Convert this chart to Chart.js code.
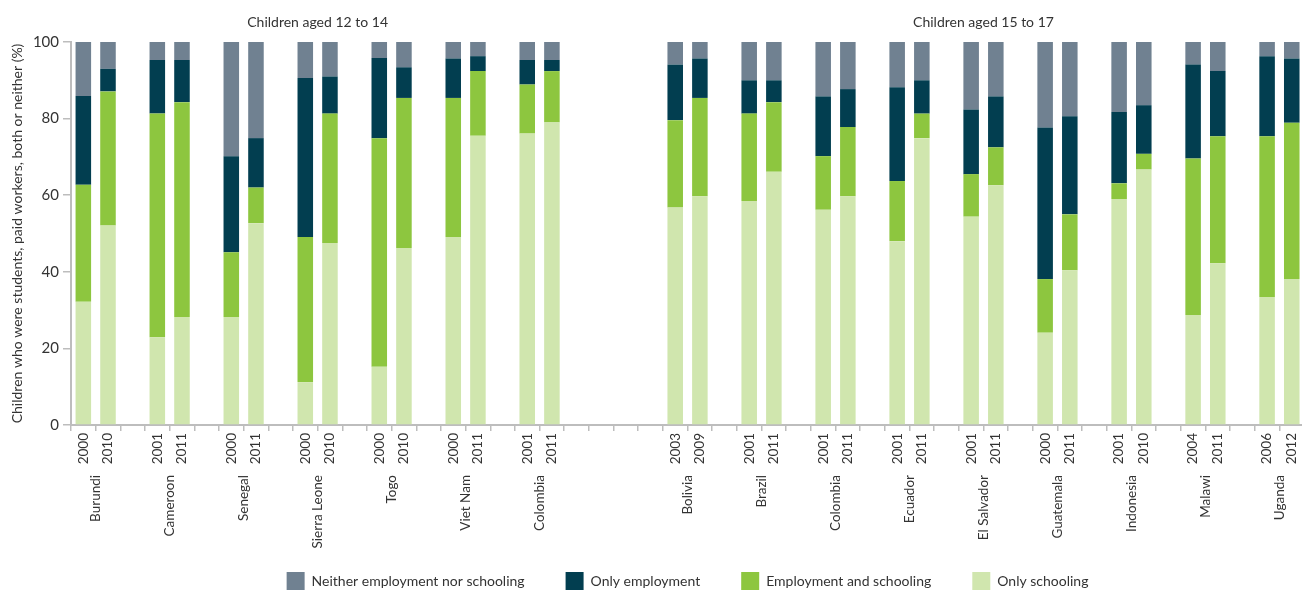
<!DOCTYPE html>
<html><head><meta charset="utf-8">
<script src="https://cdn.jsdelivr.net/npm/chart.js@4.4.1/dist/chart.umd.min.js"></script>
<style>
html,body{margin:0;padding:0;overflow:hidden;background:#fff;}
#wrap{position:relative;width:1310px;height:600px;}
</style></head><body>
<div id="wrap"><canvas id="c"></canvas></div>
<script>
// Groups
const groupTitles = ['Children aged 12 to 14', 'Children aged 15 to 17'];
const countries12 = ['Burundi','Cameroon','Senegal','Sierra Leone','Togo','Viet Nam','Colombia'];
const years12 = [['2000','2010'],['2001','2011'],['2000','2011'],['2000','2010'],['2000','2010'],['2000','2011'],['2001','2011']];
const countries15 = ['Bolivia','Brazil','Colombia','Ecuador','El Salvador','Guatemala','Indonesia','Malawi','Uganda'];
const years15 = [['2003','2009'],['2001','2011'],['2001','2011'],['2001','2011'],['2001','2011'],['2000','2011'],['2001','2010'],['2004','2011'],['2006','2012']];

// Series values (%), one per bar in reading order
const onlySchooling = [32.2,52.1, 22.9,28.2, 28.2,52.7, 11.2,47.5, 15.2,46.2, 49.1,75.5, 76.1,79.0,
  56.8,59.7, 58.5,66.1, 56.2,59.7, 48.0,74.9, 54.4,62.6, 24.1,40.4, 59.0,66.7, 28.7,42.2, 33.4,38.1];
const employmentAndSchooling = [30.5,35.0, 58.4,56.1, 16.9,9.3, 37.9,33.8, 59.7,39.2, 36.3,16.9, 12.8,13.4,
  22.8,25.7, 22.8,18.2, 14.0,18.1, 15.7,6.4, 11.1,9.9, 14.0,14.6, 4.1,4.1, 40.9,33.2, 42.0,40.8];
const onlyEmployment = [23.2,5.9, 14.0,11.0, 25.1,12.9, 41.5,9.7, 20.9,8.0, 10.3,3.9, 6.4,2.9,
  14.5,10.3, 8.7,5.7, 15.6,9.9, 24.5,8.7, 16.9,13.3, 39.6,25.6, 18.6,12.7, 24.5,17.0, 20.9,16.8];
const neither = [14.1,7.0, 4.7,4.7, 29.8,25.1, 9.4,9.0, 4.2,6.6, 4.3,3.7, 4.7,4.7,
  5.9,4.3, 10.0,10.0, 14.2,12.3, 11.8,10.0, 17.6,14.2, 22.3,19.4, 18.3,16.5, 5.9,7.6, 3.7,4.3];

const gapBetweenGroups = 4;

// Build slot layout: pairs separated by one empty slot, groups separated by gapBetweenGroups slots
const labels = [];
const barIndex = [];          // slot -> bar index or null
const countrySlots = [];      // [first slot of pair, name]
const groupRanges = [];
let bar = 0;
function addGroup(countries, years) {
  const start = labels.length;
  countries.forEach((c, i) => {
    if (i > 0) { labels.push(''); barIndex.push(null); }
    countrySlots.push([labels.length, c]);
    years[i].forEach(y => { labels.push(y); barIndex.push(bar++); });
  });
  groupRanges.push([start, labels.length - 1]);
}
addGroup(countries12, years12);
for (let i = 0; i < gapBetweenGroups; i++) { labels.push(''); barIndex.push(null); }
addGroup(countries15, years15);

const slotData = arr => barIndex.map(b => b === null ? null : arr[b]);

const FONT = 'Lato, "Open Sans", sans-serif';
const TXT = '#333333';
const AXIS = '#bdbdbd';

const textPlugin = {
  id: 'groupText',
  afterDraw(chart) {
    const xs = chart.scales.x;
    const ctx = chart.ctx;
    const half = (xs.getPixelForValue(1) - xs.getPixelForValue(0)) / 2;
    ctx.save();
    ctx.fillStyle = TXT;
    // group titles
    ctx.font = '14px ' + FONT;
    ctx.textAlign = 'center';
    ctx.textBaseline = 'middle';
    groupRanges.forEach((r, i) => {
      const cx = (xs.getPixelForValue(r[0]) - half + xs.getPixelForValue(r[1]) + half) / 2;
      ctx.fillText(groupTitles[i], cx, 22);
    });
    // country names, rotated, below the year labels
    ctx.font = '13.5px ' + FONT;
    ctx.textAlign = 'right';
    ctx.textBaseline = 'middle';
    countrySlots.forEach(([s, name]) => {
      const cx = (xs.getPixelForValue(s) + xs.getPixelForValue(s + 1)) / 2;
      ctx.save();
      ctx.translate(cx, xs.bottom);
      ctx.rotate(-Math.PI / 2);
      ctx.fillText(name, 0, 0);
      ctx.restore();
    });
    ctx.restore();
  }
};

new Chart(document.getElementById('c'), {
  type: 'bar',
  data: {
    labels: labels,
    datasets: [
      { label: 'Only schooling', data: slotData(onlySchooling), backgroundColor: '#d0e6ae' },
      { label: 'Employment and schooling', data: slotData(employmentAndSchooling), backgroundColor: '#8dc63f' },
      { label: 'Only employment', data: slotData(onlyEmployment), backgroundColor: '#023e50' },
      { label: 'Neither employment nor schooling', data: slotData(neither), backgroundColor: '#708191' }
    ]
  },
  options: {
    responsive: true,
    maintainAspectRatio: false,
    animation: false,
    layout: { padding: { top: 42, left: 0, right: 4, bottom: 0 } },
    datasets: { bar: { barPercentage: 0.63, categoryPercentage: 1.0, borderWidth: 0 } },
    plugins: {
      legend: {
        position: 'bottom',
        fullSize: false,
        reverse: true,
        labels: { boxWidth: 18, boxHeight: 18, padding: 41, color: TXT, font: { family: FONT, size: 14 } }
      },
      tooltip: { enabled: false }
    },
    scales: {
      x: {
        type: 'category',
        stacked: true,
        offset: true,
        grid: { display: true, drawOnChartArea: false, offset: true, tickLength: 6, color: AXIS, lineWidth: 1.5 },
        border: { display: true, color: AXIS, width: 2 },
        ticks: { autoSkip: false, minRotation: 90, maxRotation: 90, padding: 2, color: TXT, font: { family: FONT, size: 13.5 } },
        afterFit: s => { s.height = 50; }
      },
      spacer: {
        type: 'linear',
        position: 'bottom',
        display: true,
        min: 0, max: 1,
        grid: { display: false, drawTicks: false },
        border: { display: false },
        ticks: { display: false },
        afterFit: s => { s.height = 56; }
      },
      y: {
        stacked: true,
        min: 0, max: 100,
        grid: { display: true, drawOnChartArea: false, tickLength: 8, color: AXIS, lineWidth: 1.5 },
        border: { display: true, color: AXIS, width: 2 },
        ticks: { stepSize: 20, padding: 4, color: TXT, font: { family: FONT, size: 15 } },
        title: {
          display: true,
          text: 'Children who were students, paid workers, both or neither (%)',
          color: TXT, font: { family: FONT, size: 14 }, padding: { top: 9, bottom: 0 }
        },
        afterFit: s => { s.width = 71; }
      }
    }
  },
  plugins: [textPlugin]
});
</script>
</body></html>
